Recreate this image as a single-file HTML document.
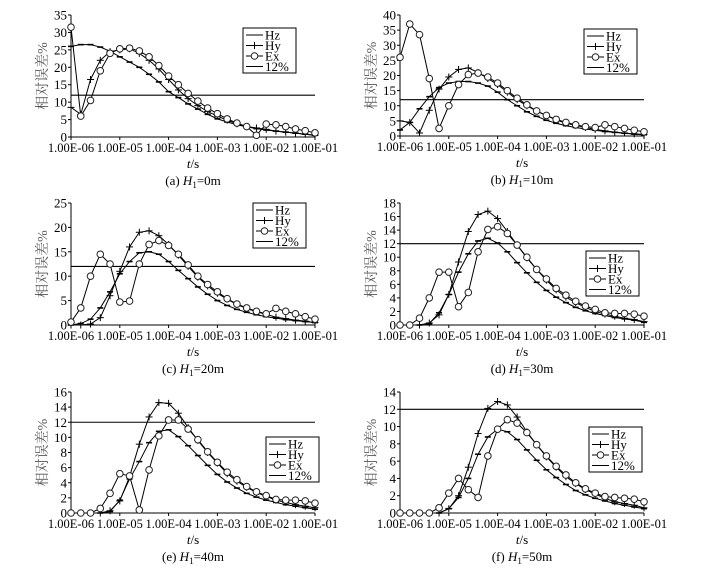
<!DOCTYPE html>
<html><head><meta charset="utf-8"><style>
html,body{margin:0;padding:0;background:#fff;}
svg{display:block;font-family:"Liberation Serif","Noto Serif CJK SC",serif;}
</style></head><body>
<svg id="fig" width="707" height="571" viewBox="0 0 707 571" xmlns="http://www.w3.org/2000/svg"></svg>
<script>
const xTickLabels = ["1.00E-06","1.00E-05","1.00E-04","1.00E-03","1.00E-02","1.00E-01"];
const seriesNames = ["Hz","Hy","Ex","12%"];
const thresholdValue = 12;
const panelCaptions = ["(a)","(b)","(c)","(d)","(e)","(f)"];
const panelDepths = ["0m","10m","20m","30m","40m","50m"];
const panelYMax = [35,40,25,18,16,14];
const panelYStep = [5,5,5,2,2,2];
const hzA=[26,26.5,26.5,25.8,24.6,23,21.5,20,18,15.8,13,11.3,9.5,8,6.5,5.2,4.3,3.5,2.9,2.4,2,1.7,1.4,1.1,0.8,0.5];
const hyA=[8.5,6.5,16.5,22,24.5,25,25.3,24,22,19.5,16.5,13.5,11,9,7.3,6,4.8,3.8,3,2.6,2.2,1.7,1.4,1.1,0.8,0.5];
const exA=[31.5,6,10.5,19,24,25.3,25.5,24.7,23,20.5,17.5,15,12.5,10.3,8.3,6.7,5.2,4,3,0.5,3.7,3.5,3,2.3,1.8,1.2];
const hzB=[2,4.5,9,13,16,17.5,18,18,17.5,16.5,14.5,12,10,8,6.5,5.2,4.2,3.4,2.8,2.3,1.9,1.5,1.2,0.9,0.6,0.4];
const hyB=[5,4.5,1,8.5,15.5,19.5,22,22.5,21,19,17,14.5,12,10,8.2,6.8,5.3,4.2,3.5,2.8,2.2,1.7,1.3,1,0.7,0.5];
const exB=[26,37,33.5,19,2.5,10,17,20.3,20.8,19.5,17.5,15,12.5,10.3,8.3,6.8,5.5,4.5,3.7,3.1,2.8,3.7,3.1,2.5,1.9,1.4];
const hzC=[0,0.3,1.2,3.5,6.8,10.5,13,14.8,15,14.5,13,11.2,9.5,7.8,6.3,5,4,3.2,2.6,2.1,1.7,1.4,1.1,0.9,0.7,0.5];
const hyC=[0,0,0.2,1.5,6,11,16,19,19.3,18.3,16.5,14.3,12,9.8,8,6.5,5.3,4.2,3.4,2.7,2.2,1.6,1.3,1,0.8,0.5];
const exC=[0.6,3.5,10,14.5,12.5,4.7,4.9,12.5,16.5,17.3,16.3,14.5,12.3,10,8.3,6.8,5.4,4.3,3.5,2.8,2.3,3.4,2.8,2.3,1.7,1.2];
const hzD=[0,0,0,0.2,1.8,4.5,7.8,10.5,12.4,12.8,12.1,10.8,9.2,7.7,6.3,5.1,4.1,3.3,2.6,2.1,1.7,1.4,1.1,0.9,0.7,0.4];
const hyD=[0,0,0,0.3,1.5,4.5,9.3,13.8,16.3,16.8,15.7,13.8,11.8,9.9,8.2,6.6,5.2,4.1,3.3,2.6,2,1.6,1.3,1,0.8,0.5];
const exD=[0,0,1,4,7.8,7.8,2.7,4.8,10.8,14.1,14.5,13.5,11.8,10,8.2,6.8,5.4,4.4,3.5,2.8,2.3,1.8,1.7,1.7,1.6,1.3];
const hzE=[0,0,0,0,0.2,1.7,4.5,6.8,9.3,10.8,11,10.1,8.9,7.6,6.3,5.1,4.1,3.3,2.6,2.1,1.7,1.4,1.1,0.9,0.7,0.5];
const hyE=[0,0,0,0,0.3,1.6,4.8,9.1,12.7,14.6,14.5,13.2,11.3,9.6,8,6.6,5.2,4.2,3.4,2.7,2.2,1.7,1.4,1.1,0.9,0.7];
const exE=[0,0,0,0.6,2.6,5.2,4.9,0.4,5.7,10.2,12.3,12.3,11.1,9.7,8.1,6.7,5.4,4.4,3.5,2.8,2.3,1.8,1.7,1.7,1.6,1.3];
const hzF=[0,0,0,0,0,0.5,1.8,4,6.8,8.8,9.7,9.4,8.5,7.3,6.1,5,4.1,3.3,2.6,2.1,1.7,1.4,1.1,0.9,0.7,0.5];
const hyF=[0,0,0,0,0,0.5,2,5.3,9.2,12.1,12.9,12.5,11.1,9.4,7.9,6.5,5.3,4.2,3.4,2.7,2.2,1.7,1.3,1.1,0.9,0.6];
const exF=[0,0,0,0,0.6,2.3,4,2.7,1.8,6.6,9.7,10.8,10.4,9.3,7.9,6.6,5.4,4.4,3.5,2.8,2.3,1.9,1.8,1.7,1.6,1.3];
const hzAll=[hzA,hzB,hzC,hzD,hzE,hzF];
const hyAll=[hyA,hyB,hyC,hyD,hyE,hyF];
const exAll=[exA,exB,exC,exD,exE,exF];

const NS="http://www.w3.org/2000/svg";
const svg=document.getElementById('fig');
function mk(tag,attrs,parent){const e=document.createElementNS(NS,tag);for(const k in attrs)e.setAttribute(k,attrs[k]);(parent||svg).appendChild(e);return e;}

const layout=[
 {x0:71,x1:315,y0:137,yt:15,lg:[243,28]},
 {x0:400,x1:644,y0:136,yt:15,lg:[584,29]},
 {x0:71,x1:315,y0:325,yt:203,lg:[253,203]},
 {x0:400,x1:644,y0:325,yt:203,lg:[586,251]},
 {x0:71,x1:315,y0:513,yt:392,lg:[266,437]},
 {x0:400,x1:644,y0:513,yt:392,lg:[589,427]}
];

function marker(g,kind,x,y){
  if(kind==='hz'){mk('line',{x1:x-3,y1:y,x2:x+3,y2:y,stroke:'#000','stroke-width':1.6},g);}
  else if(kind==='hy'){mk('line',{x1:x-3.5,y1:y,x2:x+3.5,y2:y,stroke:'#000','stroke-width':1},g);mk('line',{x1:x,y1:y-3.5,x2:x,y2:y+3.5,stroke:'#000','stroke-width':1},g);}
  else {mk('circle',{cx:x,cy:y,r:3.3,fill:'#fff',stroke:'#222','stroke-width':1},g);}
}

layout.forEach((L,p)=>{
  const g=mk('g',{});
  
  
  const ymax=panelYMax[p], step=panelYStep[p];
  const X=t=>L.x0+(t+6)/5*(L.x1-L.x0);
  const Y=v=>L.y0-v/ymax*(L.y0-L.yt);
  // axes
  const ax=mk('path',{d:`M${L.x0},${L.yt} V${L.y0} H${L.x1}`,fill:'none',stroke:'#000','stroke-width':1},g);
  
  
  for(let v=0;v<=ymax+1e-9;v+=step){
    const y=Y(v);
    mk('line',{x1:L.x0-3,y1:y,x2:L.x0,y2:y,stroke:'#000'},g);
    const t=mk('text',{x:L.x0-4,y:y+4.5,'text-anchor':'end','font-size':13},g);
    
    
    t.textContent=v;
  }
  xTickLabels.forEach((lab,i)=>{
    const x=X(-6+i);
    mk('line',{x1:x,y1:L.y0,x2:x,y2:L.y0+3,stroke:'#000'},g);
    const t=mk('text',{x:x,y:L.y0+15,'text-anchor':'middle','font-size':12.5},g);
    
    
    t.textContent=lab;
  });
  const xt=mk('text',{x:(L.x0+L.x1)/2,y:L.y0+31,'text-anchor':'middle','font-size':13},g);
  
  
  xt.innerHTML='<tspan font-style="italic">t</tspan>/s';
  const cap=mk('text',{x:(L.x0+L.x1)/2,y:L.y0+48,'text-anchor':'middle','font-size':13},g);
  
  
  cap.innerHTML=panelCaptions[p]+' <tspan font-style="italic">H</tspan><tspan font-size="9" dy="3">1</tspan><tspan dy="-3">='+panelDepths[p]+'</tspan>';
  const yl=mk('text',{x:0,y:0,'text-anchor':'middle','font-size':14,fill:'#555',transform:`translate(${L.x0-24},${(L.y0+L.yt)/2}) rotate(-90)`},g);
  
  
  yl.textContent='相对误差%';
  // threshold
  const th=mk('line',{x1:L.x0,y1:Y(thresholdValue),x2:L.x1,y2:Y(thresholdValue),stroke:'#000','stroke-width':1.1},g);
  
  
  const series=[['hz',hzAll[p]],['hy',hyAll[p]],['ex',exAll[p]]];
  series.forEach(([k,arr])=>{
    const pts=arr.map((v,i)=>[X(-6+i*0.2),Y(v)]);
    const pl=mk('polyline',{points:pts.map(q=>q.join(',')).join(' '),fill:'none',stroke:'#000','stroke-width':1},g);
    
    
    pts.forEach(q=>marker(g,k,q[0],q[1]));
  });
  // legend
  const lg=mk('g',{},g);
  
  
  const [lx,ly]=L.lg;
  mk('rect',{x:lx,y:ly,width:53,height:45,fill:'#fff',stroke:'#000','stroke-width':1},lg);
  seriesNames.forEach((n,i)=>{
    const y=ly+7+i*10.5;
    const e=mk('g',{},lg);
    
    
    mk('line',{x1:lx+3,y1:y,x2:lx+20,y2:y,stroke:'#000','stroke-width':1.1},e);
    if(i===1)marker(e,'hy',lx+11.5,y);
    if(i===2)marker(e,'ex',lx+11.5,y);
    const t=mk('text',{x:lx+22,y:y+4.5,'font-size':13},e);
    t.textContent=n;
  });
});
</script>
</body></html>
